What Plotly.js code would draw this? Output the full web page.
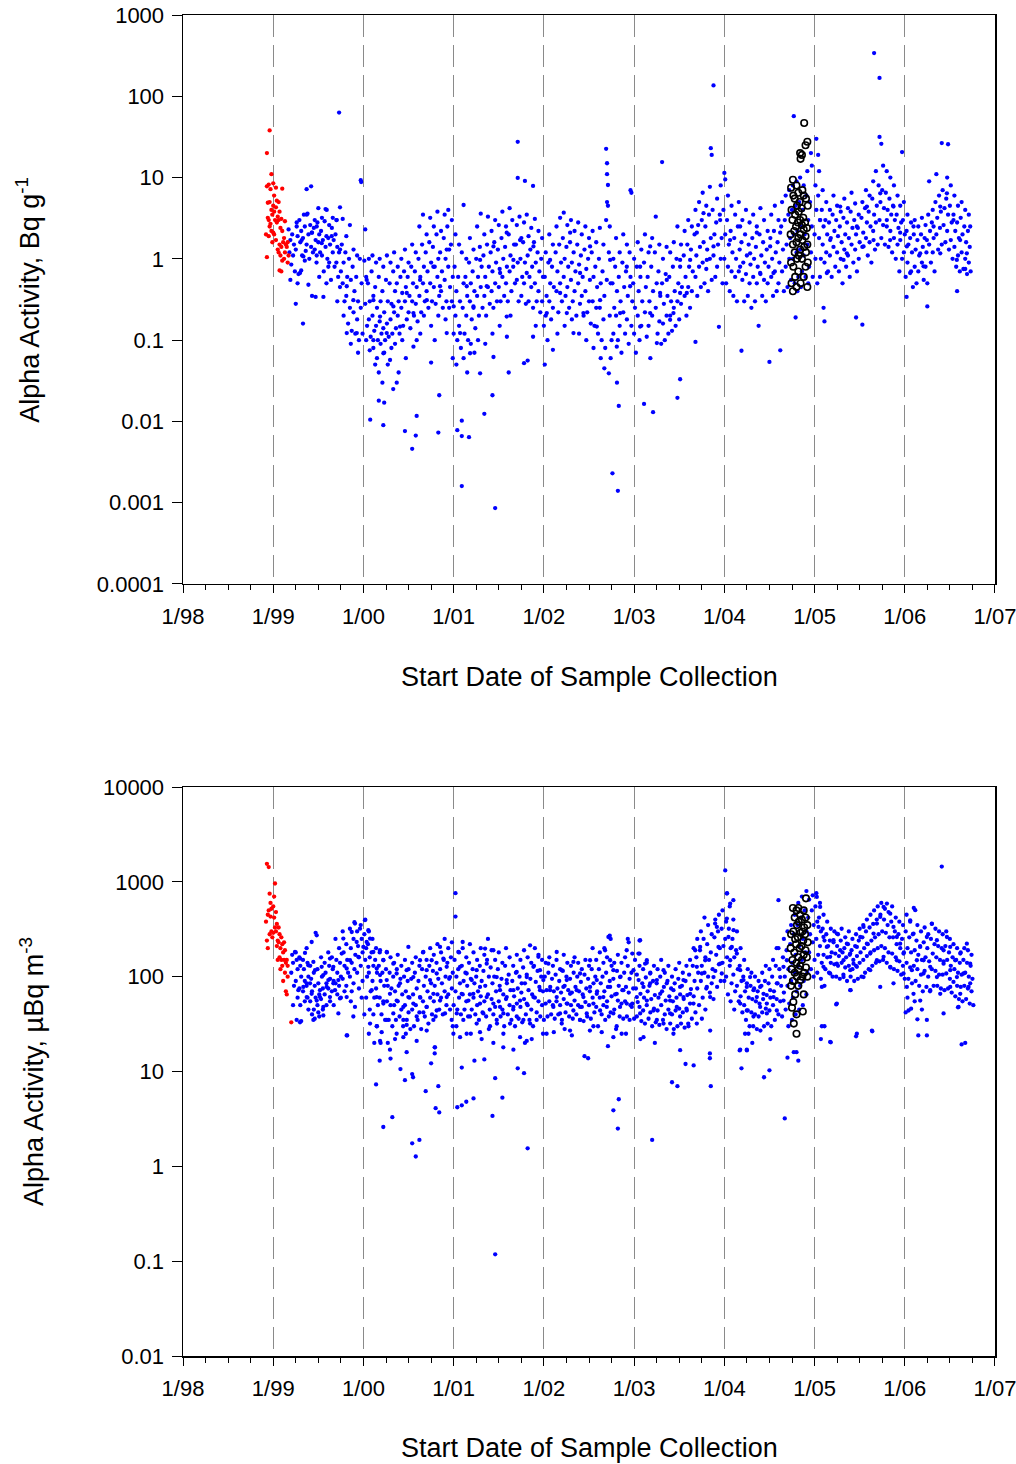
<!DOCTYPE html>
<html><head><meta charset="utf-8">
<script src="https://cdn.plot.ly/plotly-3.0.1.min.js"></script>
<style>html,body{margin:0;padding:0;background:#fff}#chart{width:1016px;height:1464px}</style>
</head><body><div id="chart"></div>
<script>
// ---------- axis ticks ----------
const yearTicks = [1998,1999,2000,2001,2002,2003,2004,2005,2006,2007];
const yearLabels = ["1/98","1/99","1/00","1/01","1/02","1/03","1/04","1/05","1/06","1/07"];
const topTickVals = [0.0001,0.001,0.01,0.1,1,10,100,1000];
const topTickText = ["0.0001","0.001","0.01","0.1","1","10","100","1000"];
const botTickVals = [0.01,0.1,1,10,100,1000,10000];
const botTickText = ["0.01","0.1","1","10","100","1000","10000"];

// ---------- top panel: Bq per g  [decimal year, value] ----------
const topRed = [
[1998.93,20],[1998.93,1.05],[1998.92,2.0],[1998.94,3.2],[1998.93,7.8],[1998.94,4.9],
[1998.96,38],[1998.95,8.2],[1998.96,5.0],[1998.95,3.0],[1998.96,2.5],[1998.95,1.9],
[1998.98,11],[1998.97,7.2],[1998.98,4.0],[1998.99,3.5],[1998.97,2.7],[1998.98,2.2],[1998.99,1.6],
[1999.0,8.5],[1999.01,6.0],[1999.0,4.5],[1999.01,3.8],[1999.02,3.0],[1999.0,2.1],[1999.01,2.0],
[1999.03,7.5],[1999.04,5.2],[1999.03,4.3],[1999.05,3.3],[1999.04,2.8],[1999.03,1.7],[1999.05,1.3],
[1999.06,5.0],[1999.07,3.8],[1999.06,3.0],[1999.08,2.4],[1999.07,1.5],[1999.06,1.2],[1999.08,1.1],[1999.07,0.72],
[1999.1,7.3],[1999.09,3.1],[1999.1,2.2],[1999.11,1.6],[1999.09,1.4],[1999.1,0.95],[1999.09,0.7],
[1999.13,2.9],[1999.12,1.8],[1999.14,1.5],[1999.13,1.2],[1999.12,1.0],
[1999.16,1.6],[1999.15,1.4],[1999.17,1.1],[1999.16,0.9]
];
const topBlack = [
[2004.74,7.5],[2004.745,4.0],[2004.735,2.0],[2004.74,0.9],[2004.745,0.5],
[2004.76,9.4],[2004.765,6.0],[2004.755,3.0],[2004.76,1.5],[2004.765,0.8],[2004.76,0.4],
[2004.78,5.5],[2004.785,3.5],[2004.775,2.2],[2004.78,1.2],[2004.785,0.6],
[2004.8,8.0],[2004.805,4.5],[2004.795,2.5],[2004.8,1.6],[2004.805,1.0],[2004.8,0.45],
[2004.82,6.5],[2004.825,3.8],[2004.815,2.8],[2004.82,1.8],[2004.825,1.1],[2004.82,0.7],
[2004.84,20],[2004.845,17],[2004.835,5.0],[2004.84,3.0],[2004.845,2.0],[2004.84,1.3],[2004.845,0.5],
[2004.86,19],[2004.865,7.0],[2004.855,4.2],[2004.86,2.6],[2004.865,1.7],[2004.86,1.0],
[2004.885,47],[2004.88,6.0],[2004.875,3.2],[2004.88,2.3],[2004.885,1.4],[2004.88,0.6],
[2004.9,25],[2004.905,5.5],[2004.895,2.8],[2004.9,1.9],[2004.905,1.2],[2004.9,0.8],
[2004.92,27.6],[2004.925,4.5],[2004.915,2.4],[2004.92,1.5],[2004.925,0.9],[2004.92,0.45]
];
const topBlue = [
// 1999
[1999.17,2.3],[1999.19,1.7],[1999.18,1.2],[1999.2,0.85],[1999.19,0.55],
[1999.21,2.0],[1999.23,1.5],[1999.22,1.1],[1999.24,0.7],[1999.25,0.28],
[1999.26,2.8],[1999.27,1.9],[1999.25,1.3],[1999.28,0.65],[1999.27,0.5],
[1999.29,3.0],[1999.31,2.2],[1999.3,1.6],[1999.32,1.1],[1999.31,0.72],[1999.33,0.16],
[1999.34,3.5],[1999.35,2.5],[1999.33,1.8],[1999.36,1.25],[1999.35,0.95],
[1999.37,7.2],[1999.38,3.6],[1999.39,2.0],[1999.37,1.5],[1999.4,1.0],[1999.39,0.48],
[1999.42,7.8],[1999.41,2.6],[1999.43,2.1],[1999.42,1.4],[1999.44,1.2],[1999.43,0.35],
[1999.46,3.0],[1999.45,2.4],[1999.47,1.7],[1999.46,1.3],[1999.48,0.9],[1999.47,0.34],
[1999.5,4.2],[1999.49,2.8],[1999.51,2.0],[1999.5,1.6],[1999.52,1.2],[1999.51,0.6],
[1999.54,3.2],[1999.53,2.2],[1999.55,1.7],[1999.54,1.1],[1999.56,0.7],
[1999.58,4.1],[1999.57,2.9],[1999.59,1.9],[1999.58,1.4],[1999.6,1.0],[1999.59,0.5],
[1999.62,2.6],[1999.61,1.8],[1999.63,1.5],[1999.62,0.9],[1999.64,0.55],
[1999.66,3.2],[1999.65,2.4],[1999.67,1.7],[1999.66,1.2],[1999.68,0.8],
[1999.7,3.0],[1999.69,2.0],[1999.71,1.4],[1999.7,0.9],[1999.72,0.6],[1999.71,0.3],
[1999.73,63],[1999.74,4.3],[1999.73,1.2],[1999.75,0.7],[1999.74,0.45],
[1999.77,3.1],[1999.76,1.5],[1999.78,0.9],[1999.77,0.5],[1999.79,0.3],[1999.78,0.2],
[1999.81,1.9],[1999.8,1.2],[1999.82,0.6],[1999.81,0.35],[1999.83,0.16],
[1999.85,2.6],[1999.84,1.0],[1999.86,0.55],[1999.85,0.25],[1999.87,0.13],[1999.86,0.09],
[1999.89,1.3],[1999.88,0.8],[1999.9,0.4],[1999.89,0.22],[1999.91,0.12],
[1999.93,1.1],[1999.92,0.6],[1999.94,0.3],[1999.93,0.18],[1999.95,0.1],[1999.94,0.07],
[1999.97,9.3],[1999.975,8.8],[1999.96,1.0],[1999.98,0.5],[1999.97,0.25],[1999.99,0.12],
// 2000
[2000.02,2.3],[2000.01,0.95],[2000.03,0.6],[2000.02,0.28],[2000.04,0.15],[2000.03,0.1],
[2000.06,1.0],[2000.05,0.5],[2000.07,0.3],[2000.06,0.18],[2000.08,0.11],[2000.07,0.075],[2000.075,0.0105],
[2000.1,1.1],[2000.09,0.7],[2000.11,0.35],[2000.1,0.2],[2000.12,0.13],[2000.11,0.08],[2000.13,0.05],
[2000.14,0.9],[2000.13,0.45],[2000.15,0.25],[2000.14,0.15],[2000.16,0.1],[2000.15,0.06],[2000.17,0.04],[2000.17,0.018],
[2000.18,1.0],[2000.17,0.6],[2000.19,0.3],[2000.18,0.17],[2000.2,0.12],[2000.19,0.09],[2000.21,0.03],
[2000.22,0.8],[2000.21,0.4],[2000.23,0.22],[2000.22,0.14],[2000.24,0.1],[2000.23,0.07],[2000.22,0.009],[2000.23,0.017],
[2000.26,1.1],[2000.25,0.55],[2000.27,0.3],[2000.26,0.16],[2000.28,0.11],[2000.27,0.05],
[2000.3,0.9],[2000.29,0.5],[2000.31,0.28],[2000.3,0.18],[2000.32,0.12],[2000.31,0.08],[2000.33,0.025],
[2000.34,1.2],[2000.33,0.7],[2000.35,0.4],[2000.34,0.22],[2000.36,0.14],[2000.35,0.09],
[2000.38,0.8],[2000.37,0.5],[2000.39,0.3],[2000.38,0.2],[2000.4,0.12],[2000.39,0.04],
[2000.42,1.0],[2000.41,0.6],[2000.43,0.38],[2000.42,0.25],[2000.44,0.15],[2000.43,0.1],[2000.46,0.0076],
[2000.46,1.3],[2000.45,0.7],[2000.47,0.45],[2000.46,0.3],[2000.48,0.18],[2000.47,0.06],
[2000.5,0.9],[2000.49,0.6],[2000.51,0.35],[2000.5,0.22],[2000.52,0.14],[2000.54,0.0046],
[2000.54,1.5],[2000.53,0.8],[2000.55,0.5],[2000.54,0.3],[2000.56,0.2],[2000.58,0.0067],[2000.59,0.0117],
[2000.58,1.2],[2000.57,0.7],[2000.59,0.45],[2000.58,0.28],[2000.6,0.17],[2000.59,0.1],
[2000.62,2.5],[2000.61,1.0],[2000.63,0.6],[2000.62,0.35],[2000.64,0.22],[2000.63,0.12],
[2000.66,3.5],[2000.65,1.5],[2000.67,0.8],[2000.66,0.5],[2000.68,0.3],[2000.67,0.2],
[2000.7,2.0],[2000.69,1.2],[2000.71,0.7],[2000.7,0.4],[2000.72,0.25],[2000.75,0.053],
[2000.74,3.2],[2000.73,1.6],[2000.75,0.9],[2000.74,0.5],[2000.76,0.3],[2000.75,0.15],
[2000.78,2.5],[2000.77,1.4],[2000.79,0.8],[2000.78,0.45],[2000.8,0.28],[2000.79,0.1],
[2000.82,3.8],[2000.81,2.0],[2000.83,1.0],[2000.82,0.6],[2000.84,0.35],[2000.83,0.2],[2000.83,0.0073],[2000.84,0.021],
[2000.86,2.2],[2000.85,1.2],[2000.87,0.7],[2000.86,0.4],[2000.88,0.25],
[2000.9,3.5],[2000.89,1.8],[2000.91,1.0],[2000.9,0.55],[2000.92,0.3],[2000.91,0.18],
[2000.94,4.0],[2000.93,2.5],[2000.95,1.3],[2000.94,0.8],[2000.96,0.45],[2000.95,0.25],
[2000.98,3.0],[2000.97,1.5],[2000.99,0.6],[2000.98,0.3],[2001,0.12],[2000.99,0.06],
// 2001
[2001.02,2.0],[2001.01,0.8],[2001.03,0.4],[2001.02,0.2],[2001.04,0.1],[2001.03,0.05],[2001.04,0.0078],
[2001.06,1.5],[2001.05,0.6],[2001.07,0.3],[2001.06,0.15],[2001.08,0.08],[2001.09,0.0066],[2001.09,0.0102],[2001.09,0.0016],
[2001.11,4.6],[2001.09,1.2],[2001.11,0.5],[2001.1,0.25],[2001.12,0.12],[2001.11,0.06],[2001.17,0.0064],
[2001.14,1.0],[2001.13,0.6],[2001.15,0.35],[2001.14,0.2],[2001.16,0.1],[2001.15,0.04],
[2001.18,1.8],[2001.17,0.9],[2001.19,0.5],[2001.18,0.3],[2001.2,0.18],[2001.19,0.09],
[2001.22,1.3],[2001.21,0.7],[2001.23,0.4],[2001.22,0.25],[2001.24,0.14],[2001.23,0.07],
[2001.26,2.5],[2001.25,1.0],[2001.27,0.6],[2001.26,0.35],[2001.28,0.2],[2001.27,0.1],
[2001.3,3.6],[2001.29,1.4],[2001.31,0.8],[2001.3,0.45],[2001.32,0.25],[2001.34,0.0124],
[2001.34,2.0],[2001.33,1.1],[2001.35,0.6],[2001.34,0.35],[2001.36,0.2],[2001.35,0.09],
[2001.38,3.3],[2001.37,1.5],[2001.39,0.8],[2001.38,0.45],[2001.4,0.28],[2001.43,0.021],
[2001.42,2.2],[2001.41,1.2],[2001.43,0.7],[2001.42,0.4],[2001.44,0.25],[2001.43,0.12],
[2001.46,0.00086],[2001.46,3.0],[2001.45,1.6],[2001.47,0.9],[2001.46,0.5],[2001.48,0.3],
[2001.5,2.6],[2001.49,1.3],[2001.51,0.75],[2001.5,0.45],[2001.52,0.3],[2001.51,0.15],
[2001.54,3.8],[2001.53,1.8],[2001.55,1.0],[2001.54,0.6],[2001.56,0.35],[2001.61,0.04],
[2001.58,2.5],[2001.57,1.4],[2001.59,0.8],[2001.58,0.5],[2001.6,0.3],[2001.59,0.11],
[2001.62,4.2],[2001.61,2.0],[2001.63,1.1],[2001.62,0.7],[2001.64,0.4],[2001.63,0.2],
[2001.71,27.5],[2001.71,9.9],[2001.65,3.0],[2001.67,1.5],[2001.66,0.8],[2001.68,0.5],[2001.78,0.052],
[2001.7,2.6],[2001.69,1.5],[2001.71,0.9],[2001.7,0.55],[2001.72,0.3],[2001.82,0.056],
[2001.79,9.1],[2001.73,3.3],[2001.75,1.8],[2001.74,1.0],[2001.76,0.6],[2001.75,0.35],
[2001.78,2.8],[2001.77,1.6],[2001.79,0.9],[2001.78,0.5],[2001.8,0.28],[2001.88,0.11],
[2001.88,7.9],[2001.81,3.5],[2001.83,1.9],[2001.82,1.1],[2001.84,0.6],[2001.83,0.3],
[2001.86,2.4],[2001.85,1.3],[2001.87,0.8],[2001.86,0.45],[2001.88,0.25],
[2001.9,3.1],[2001.89,1.6],[2001.91,0.9],[2001.9,0.5],[2001.92,0.3],[2001.91,0.15],
[2001.94,2.2],[2001.93,1.2],[2001.95,0.7],[2001.94,0.4],[2001.96,0.22],
[2001.98,1.8],[2001.97,1.0],[2001.99,0.6],[2001.98,0.3],[2002,0.15],
// 2002
[2002.02,1.2],[2002.01,0.6],[2002.03,0.35],[2002.02,0.2],[2002.04,0.1],[2002.01,0.05],
[2002.06,2.0],[2002.05,0.9],[2002.07,0.5],[2002.06,0.3],[2002.08,0.18],
[2002.1,1.5],[2002.09,0.8],[2002.11,0.45],[2002.1,0.25],[2002.1,0.076],
[2002.14,2.5],[2002.13,1.2],[2002.15,0.7],[2002.14,0.4],[2002.16,0.22],[2002.15,0.12],
[2002.18,3.2],[2002.17,1.5],[2002.19,0.9],[2002.18,0.5],[2002.2,0.3],
[2002.22,3.7],[2002.21,1.8],[2002.23,1.0],[2002.22,0.6],[2002.24,0.35],[2002.23,0.15],
[2002.26,2.6],[2002.25,1.4],[2002.27,0.8],[2002.26,0.45],[2002.28,0.25],
[2002.3,3.0],[2002.29,1.6],[2002.31,0.9],[2002.3,0.55],[2002.32,0.3],[2002.31,0.18],
[2002.34,2.2],[2002.33,1.2],[2002.35,0.7],[2002.34,0.4],[2002.36,0.2],
[2002.38,2.8],[2002.37,1.5],[2002.39,0.85],[2002.38,0.5],[2002.4,0.28],[2002.39,0.12],
[2002.42,2.0],[2002.41,1.1],[2002.43,0.6],[2002.42,0.35],[2002.44,0.2],
[2002.46,2.5],[2002.45,1.3],[2002.47,0.75],[2002.46,0.4],[2002.48,0.22],[2002.47,0.1],
[2002.5,1.8],[2002.49,1.0],[2002.51,0.55],[2002.5,0.3],[2002.52,0.16],
[2002.54,2.2],[2002.53,1.2],[2002.55,0.6],[2002.54,0.3],[2002.56,0.15],[2002.55,0.08],
[2002.58,1.6],[2002.57,0.8],[2002.59,0.45],[2002.58,0.25],[2002.6,0.12],
[2002.62,2.4],[2002.61,1.0],[2002.63,0.5],[2002.62,0.25],[2002.64,0.1],[2002.63,0.06],
[2002.66,1.5],[2002.65,0.7],[2002.67,0.35],[2002.66,0.18],[2002.68,0.08],[2002.67,0.045],
[2002.69,22.6],[2002.7,15],[2002.7,11],[2002.71,8.1],[2002.7,5.0],[2002.71,4.5],[2002.69,3.0],[2002.72,0.039],
[2002.73,2.5],[2002.72,1.2],[2002.74,0.5],[2002.73,0.2],[2002.75,0.1],[2002.74,0.06],[2002.76,0.0023],
[2002.77,1.0],[2002.76,0.5],[2002.78,0.25],[2002.77,0.12],[2002.81,0.03],[2002.83,0.0155],
[2002.8,1.8],[2002.79,0.8],[2002.81,0.4],[2002.8,0.2],[2002.82,0.1],[2002.82,0.0014],
[2002.84,1.2],[2002.83,0.6],[2002.85,0.3],[2002.84,0.15],[2002.86,0.07],
[2002.88,2.0],[2002.87,0.9],[2002.89,0.45],[2002.88,0.22],[2002.9,0.12],
[2002.92,1.5],[2002.91,0.7],[2002.93,0.35],[2002.92,0.18],[2002.94,0.09],
[2002.96,7.0],[2002.97,6.5],[2002.95,1.2],[2002.96,0.6],[2002.98,0.3],[2002.97,0.15],
// 2003
[2003,1.0],[2002.99,0.5],[2003.01,0.25],[2003,0.12],[2003.02,0.07],
[2003.04,1.6],[2003.03,0.8],[2003.05,0.4],[2003.04,0.2],[2003.06,0.1],
[2003.08,1.3],[2003.07,0.6],[2003.09,0.3],[2003.08,0.15],[2003.11,0.0164],
[2003.12,2.0],[2003.11,0.9],[2003.13,0.45],[2003.12,0.22],[2003.14,0.11],
[2003.16,1.2],[2003.15,0.6],[2003.17,0.3],[2003.16,0.15],[2003.18,0.06],
[2003.2,1.8],[2003.19,0.8],[2003.21,0.4],[2003.2,0.2],[2003.21,0.013],
[2003.24,3.3],[2003.23,1.2],[2003.25,0.5],[2003.24,0.25],[2003.26,0.12],
[2003.28,1.5],[2003.31,15.5],[2003.27,0.7],[2003.29,0.35],[2003.28,0.17],[2003.3,0.09],
[2003.32,1.0],[2003.31,0.5],[2003.33,0.28],[2003.32,0.16],[2003.34,0.1],
[2003.36,1.4],[2003.35,0.65],[2003.37,0.35],[2003.36,0.2],[2003.38,0.12],
[2003.4,1.2],[2003.39,0.6],[2003.41,0.3],[2003.4,0.2],[2003.42,0.13],
[2003.44,1.6],[2003.43,0.8],[2003.45,0.4],[2003.44,0.25],[2003.46,0.15],
[2003.48,2.5],[2003.47,1.0],[2003.49,0.5],[2003.48,0.3],[2003.5,0.18],[2003.48,0.0195],
[2003.52,1.5],[2003.51,0.8],[2003.53,0.45],[2003.52,0.28],[2003.51,0.033],
[2003.56,2.2],[2003.55,1.1],[2003.57,0.6],[2003.56,0.35],[2003.58,0.2],
[2003.6,3.0],[2003.59,1.5],[2003.61,0.8],[2003.6,0.45],[2003.62,0.25],
[2003.64,2.5],[2003.63,1.3],[2003.65,0.7],[2003.64,0.4],[2003.68,0.095],
[2003.68,4.0],[2003.67,2.0],[2003.69,1.1],[2003.68,0.6],[2003.7,0.35],
[2003.72,5.0],[2003.71,2.6],[2003.73,1.4],[2003.72,0.8],[2003.74,0.45],
[2003.76,6.5],[2003.75,3.0],[2003.77,1.6],[2003.76,0.9],[2003.78,0.5],
[2003.8,4.5],[2003.79,2.5],[2003.81,1.3],[2003.8,0.75],[2003.82,0.4],
[2003.84,7.7],[2003.83,3.5],[2003.85,1.8],[2003.84,1.0],[2003.86,0.55],
[2003.88,136],[2003.85,23],[2003.86,19],[2003.87,4.0],[2003.89,2.0],[2003.88,1.1],[2003.9,0.6],
[2003.92,5.5],[2003.91,2.8],[2003.93,1.5],[2003.92,0.8],[2003.94,0.146],
[2003.96,8.0],[2003.95,3.5],[2003.97,1.8],[2003.96,1.0],[2003.98,0.5],
// 2004
[2004,11.4],[2004.01,9.5],[2003.99,4.0],[2004.01,2.0],[2004,1.0],[2004.02,0.5],
[2004.04,6.0],[2004.03,3.0],[2004.05,1.5],[2004.04,0.8],[2004.06,0.4],
[2004.08,4.5],[2004.07,2.2],[2004.09,1.2],[2004.08,0.7],[2004.1,0.35],
[2004.12,3.5],[2004.11,1.8],[2004.13,1.0],[2004.12,0.6],[2004.14,0.3],
[2004.16,5.0],[2004.15,2.5],[2004.17,1.3],[2004.16,0.7],[2004.19,0.074],
[2004.2,3.0],[2004.19,1.6],[2004.21,0.9],[2004.2,0.55],[2004.22,0.3],
[2004.24,4.0],[2004.23,2.0],[2004.25,1.1],[2004.24,0.65],[2004.26,0.35],
[2004.28,2.8],[2004.27,1.5],[2004.29,0.85],[2004.28,0.5],[2004.3,0.25],
[2004.32,3.5],[2004.31,1.8],[2004.33,1.0],[2004.32,0.6],[2004.34,0.3],
[2004.36,2.5],[2004.35,1.4],[2004.37,0.8],[2004.36,0.5],[2004.38,0.15],
[2004.4,4.2],[2004.39,2.0],[2004.41,1.1],[2004.4,0.65],[2004.42,0.35],
[2004.44,3.0],[2004.43,1.6],[2004.45,0.9],[2004.44,0.55],[2004.46,0.3],
[2004.48,2.2],[2004.47,1.3],[2004.49,0.8],[2004.48,0.5],[2004.5,0.054],
[2004.52,3.5],[2004.51,1.8],[2004.53,1.0],[2004.52,0.6],[2004.54,0.35],
[2004.56,4.5],[2004.55,2.2],[2004.57,1.2],[2004.56,0.7],[2004.58,0.4],
[2004.6,3.0],[2004.59,1.6],[2004.61,0.9],[2004.6,0.5],[2004.62,0.075],
[2004.64,5.0],[2004.63,2.5],[2004.65,1.3],[2004.64,0.7],[2004.66,0.4],
[2004.68,6.0],[2004.67,3.0],[2004.69,1.5],[2004.68,0.8],[2004.7,0.45],
[2004.72,7.0],[2004.71,3.5],[2004.73,1.8],[2004.72,1.0],[2004.74,0.55],
[2004.77,57],[2004.76,8.0],[2004.75,4.0],[2004.77,2.0],[2004.76,1.0],[2004.78,0.5],[2004.79,0.19],
[2004.8,9.0],[2004.79,4.5],[2004.81,2.2],[2004.8,1.2],[2004.82,0.6],[2004.81,0.4],
[2004.84,10],[2004.83,5.0],[2004.85,2.5],[2004.84,1.3],[2004.86,0.7],[2004.85,0.45],
[2004.88,8.0],[2004.87,4.0],[2004.89,2.0],[2004.88,1.1],[2004.9,0.6],
[2004.92,12],[2004.91,6.0],[2004.93,3.0],[2004.92,1.5],[2004.94,0.8],[2004.93,0.5],
[2004.96,20],[2004.97,14],[2004.95,5.0],[2004.97,2.5],[2004.96,1.2],[2004.98,0.6],
// 2005
[2005.02,30],[2005.04,19],[2005.01,8.0],[2005.02,4.0],[2005,2.0],[2005.01,1.0],[2005.03,0.5],
[2005.05,12],[2005.04,6.0],[2005.06,3.0],[2005.05,1.8],[2005.07,1.0],[2005.06,0.6],
[2005.09,7.0],[2005.08,4.0],[2005.1,2.5],[2005.09,1.5],[2005.11,0.9],[2005.1,0.25],
[2005.13,5.0],[2005.12,3.0],[2005.14,2.0],[2005.13,1.2],[2005.15,0.7],[2005.11,0.17],
[2005.17,4.0],[2005.16,2.8],[2005.18,1.8],[2005.17,1.1],[2005.19,0.6],
[2005.21,6.0],[2005.2,3.5],[2005.22,2.2],[2005.21,1.4],[2005.23,0.8],
[2005.25,4.5],[2005.24,3.0],[2005.26,1.9],[2005.25,1.2],[2005.27,0.7],
[2005.29,3.8],[2005.28,2.5],[2005.3,1.6],[2005.29,1.0],[2005.31,0.5],
[2005.33,5.5],[2005.32,3.2],[2005.34,2.0],[2005.33,1.3],[2005.35,0.8],
[2005.37,4.2],[2005.36,2.8],[2005.38,1.8],[2005.37,1.1],[2005.39,0.6],
[2005.41,6.5],[2005.4,3.8],[2005.42,2.4],[2005.41,1.5],[2005.43,0.9],
[2005.45,4.8],[2005.44,3.0],[2005.46,2.0],[2005.45,1.3],[2005.47,0.7],
[2005.49,3.5],[2005.48,2.4],[2005.5,1.6],[2005.49,1.0],[2005.46,0.19],
[2005.53,5.0],[2005.52,3.2],[2005.54,2.1],[2005.53,1.4],[2005.53,0.155],
[2005.57,7.0],[2005.56,4.2],[2005.58,2.8],[2005.57,1.8],[2005.59,1.1],
[2005.61,6.0],[2005.6,3.8],[2005.62,2.5],[2005.61,1.6],[2005.63,0.9],
[2005.65,9.0],[2005.64,5.5],[2005.66,3.5],[2005.65,2.2],[2005.67,1.3],
[2005.66,340],[2005.68,12],[2005.69,4.5],[2005.68,2.8],[2005.7,1.5],
[2005.72,168],[2005.72,31.6],[2005.74,26],[2005.71,8.0],[2005.73,5.0],[2005.72,3.0],[2005.74,1.8],
[2005.76,14],[2005.75,7.0],[2005.77,4.2],[2005.76,2.6],[2005.78,1.5],
[2005.8,12],[2005.79,6.5],[2005.81,4.0],[2005.8,2.5],[2005.82,1.4],
[2005.84,10],[2005.83,5.5],[2005.85,3.5],[2005.84,2.2],[2005.86,1.2],
[2005.88,8.0],[2005.87,4.5],[2005.89,3.0],[2005.88,1.8],[2005.9,1.0],
[2005.92,6.0],[2005.91,3.5],[2005.93,2.4],[2005.92,1.5],[2005.94,0.7],
[2005.97,20.6],[2005.95,4.5],[2005.96,2.8],[2005.95,1.7],[2005.97,1.0],
[2005.99,5.0],[2005.98,3.0],[2006,2.0],[2005.99,1.2],[2006.01,0.6],
// 2006
[2006.03,3.5],[2006.02,2.2],[2006.04,1.5],[2006.03,0.9],[2006.02,0.34],
[2006.07,2.8],[2006.06,1.8],[2006.08,1.2],[2006.07,0.7],[2006.09,0.45],
[2006.11,3.0],[2006.1,2.0],[2006.12,1.3],[2006.11,0.8],[2006.13,0.5],
[2006.15,2.5],[2006.14,1.7],[2006.16,1.1],[2006.15,0.7],[2006.25,0.26],
[2006.19,3.2],[2006.18,2.0],[2006.2,1.4],[2006.19,0.9],[2006.21,0.55],
[2006.23,2.6],[2006.22,1.8],[2006.24,1.2],[2006.23,0.8],[2006.25,0.5],
[2006.27,9.0],[2006.26,3.5],[2006.28,2.2],[2006.27,1.5],[2006.29,0.9],
[2006.31,4.0],[2006.3,2.8],[2006.32,1.8],[2006.31,1.2],[2006.33,0.7],
[2006.35,11],[2006.34,5.0],[2006.36,3.2],[2006.35,2.0],[2006.37,1.3],
[2006.41,26.6],[2006.38,6.0],[2006.4,3.8],[2006.39,2.4],[2006.41,1.5],
[2006.48,25.7],[2006.42,7.0],[2006.44,4.2],[2006.43,2.6],[2006.45,1.6],
[2006.47,10],[2006.46,5.5],[2006.48,3.5],[2006.47,2.2],[2006.49,1.3],
[2006.51,8.0],[2006.5,4.5],[2006.52,2.8],[2006.51,1.7],[2006.53,1.0],[2006.58,0.4],
[2006.55,6.0],[2006.54,3.5],[2006.56,2.2],[2006.55,1.4],[2006.57,0.8],
[2006.59,4.5],[2006.58,2.8],[2006.6,1.8],[2006.59,1.1],[2006.61,0.7],
[2006.63,5.0],[2006.62,3.2],[2006.64,2.0],[2006.63,1.2],[2006.65,0.75],
[2006.67,4.0],[2006.66,2.5],[2006.68,1.6],[2006.67,1.0],[2006.69,0.65],
[2006.71,3.5],[2006.7,2.2],[2006.72,1.4],[2006.71,0.9],[2006.73,0.7]
];
// additional top-panel points read from close-ups
const topBlueMore = [
[1999.260,2.5],[1999.316,1.7],[1999.371,3.5],[1999.427,2.1],[1999.482,2.5],[1999.537,1.56],[1999.593,4.0],
[1999.648,1.9],[1999.704,3.0],[1999.741,1.3],[1999.334,1.07],[1999.482,1.1],[1999.611,0.8],[1999.297,0.67],
[1999.556,0.34],[1999.815,0.46],[1999.888,0.31],[1999.815,0.122],[1999.926,0.122],[2000.036,0.55],[2000.110,0.31],
[2000.184,0.195],[2000.258,0.122],[2000.221,0.069],[2000.332,0.26],[2000.406,0.147],[2000.480,0.38],[2000.554,0.215],
[2000.628,0.55],[2000.702,0.31],[2000.775,0.8],[2000.849,0.46],[2000.923,1.3],[2001.0,0.26],[2001.071,0.122],
[2001.145,0.46],[2001.219,0.26],[2001.293,0.97],[2001.367,0.46],[2001.441,1.42],[2001.515,0.67],[2001.588,2.1],
[2001.662,0.97],[2001.736,1.7],[2001.810,0.67],[2001.884,1.42],[2000.110,0.1],[2000.295,0.057],[2000.369,0.030],
[2000.554,0.083],[2000.923,0.122],[2001.182,0.069],[2001.293,0.039],[2001.441,0.062],[2001.588,0.195],
[2002.069,0.97],[2002.180,0.38],[2002.291,2.1],[2002.401,0.67],[2002.512,1.42],[2002.623,0.31],[2002.734,0.97],
[2002.845,0.215],[2002.956,0.46],[2003.067,0.8],[2003.178,0.215],[2003.288,0.38],[2003.399,0.178],[2003.510,0.38],
[2003.621,0.97],[2003.695,2.1],[2003.769,3.65],[2003.880,1.42],[2003.954,3.0],[2004.064,1.7],[2004.175,0.8],
[2004.286,1.17],[2004.397,0.67],[2004.508,1.42],[2004.619,2.1],[2002.254,0.215],[2002.328,0.122],[2002.586,0.147],
[2002.808,0.083],[2003.067,0.147],[2003.252,0.092],[2003.436,0.215],[2003.584,0.38],[2002.032,0.215],[2002.438,0.215],
[2002.697,0.55],[2002.919,0.8],[2003.178,1.42],[2003.362,0.55],[2003.510,0.97],[2003.806,0.97],[2004.175,2.5],
[2004.360,2.1],[2004.545,0.67],
[2005.062,3.0],[2005.173,1.7],[2005.284,4.4],[2005.358,1.17],[2005.469,2.5],[2005.580,4.4],[2005.654,1.7],
[2005.728,6.4],[2005.801,3.0],[2005.875,4.4],[2005.949,2.1],[2006.023,1.42],[2006.097,2.5],[2006.171,1.17],
[2006.245,1.7],[2006.319,2.5],[2006.393,4.4],[2006.467,6.4],[2006.540,3.0],[2006.614,1.7],[2006.688,1.17],
[2006.725,2.5],[2005.136,0.67],[2005.321,0.97],[2005.543,1.42],[2005.838,1.7],[2006.060,0.67],[2006.208,0.81],
[2006.393,1.17],[2006.577,0.97],[2006.670,0.75]
];

// ---------- bottom panel: µBq per m3  [decimal year, value] ----------
const botRed = [
[1998.93,1550],[1998.94,450],[1998.92,380],[1998.93,240],
[1998.95,1430],[1998.96,750],[1998.95,500],[1998.96,280],[1998.94,200],
[1998.97,600],[1998.98,520],[1998.97,430],[1998.98,300],[1998.99,260],
[1999.02,960],[1999.01,700],[1999.0,550],[1999.01,420],[1999.02,330],[1999.0,290],
[1999.03,480],[1999.04,360],[1999.03,300],[1999.05,240],[1999.04,210],[1999.05,150],
[1999.06,330],[1999.07,280],[1999.06,230],[1999.08,200],[1999.07,160],[1999.08,120],
[1999.09,260],[1999.1,220],[1999.11,180],[1999.09,150],[1999.1,130],[1999.11,90],
[1999.12,230],[1999.13,190],[1999.12,150],[1999.14,140],[1999.13,110],[1999.14,70],
[1999.15,150],[1999.16,130],[1999.15,65],[1999.16,100],
[1999.2,33]
];
const botBlack = [
[2004.74,280],[2004.735,200],[2004.745,120],[2004.74,80],[2004.75,47],
[2004.76,530],[2004.765,300],[2004.755,150],[2004.76,90],[2004.765,54],[2004.77,32],
[2004.78,420],[2004.785,250],[2004.775,180],[2004.78,110],[2004.785,65],
[2004.8,500],[2004.805,350],[2004.795,220],[2004.8,140],[2004.805,100],[2004.8,40],[2004.8,25],
[2004.82,530],[2004.825,380],[2004.815,260],[2004.82,160],[2004.825,120],[2004.82,80],
[2004.84,450],[2004.845,290],[2004.835,200],[2004.84,130],[2004.845,92],
[2004.86,400],[2004.865,300],[2004.855,210],[2004.86,150],[2004.865,100],[2004.87,43],
[2004.88,500],[2004.885,330],[2004.875,240],[2004.88,170],[2004.885,110],[2004.88,65],
[2004.905,670],[2004.9,420],[2004.895,280],[2004.9,190],[2004.905,125],
[2004.92,350],[2004.925,230],[2004.915,160],[2004.92,100]
];
const botBlue = [
// 1999
[1999.21,170],[1999.22,140],[1999.2,110],[1999.23,80],[1999.22,50],
[1999.25,180],[1999.26,150],[1999.27,120],[1999.25,90],[1999.27,60],[1999.26,35],
[1999.29,160],[1999.3,130],[1999.31,100],[1999.29,75],[1999.3,50],[1999.31,34],
[1999.33,150],[1999.34,120],[1999.35,90],[1999.33,70],[1999.35,55],
[1999.37,200],[1999.38,140],[1999.39,100],[1999.37,80],[1999.38,60],[1999.39,45],
[1999.41,130],[1999.42,95],[1999.43,70],[1999.41,55],[1999.43,40],
[1999.47,290],[1999.45,110],[1999.46,80],[1999.47,60],[1999.45,45],[1999.46,36],
[1999.49,120],[1999.5,85],[1999.51,65],[1999.49,50],[1999.51,38],
[1999.53,160],[1999.54,100],[1999.55,75],[1999.53,58],[1999.55,45],
[1999.57,140],[1999.58,110],[1999.59,85],[1999.57,65],[1999.59,50],
[1999.61,180],[1999.62,130],[1999.63,95],[1999.61,75],[1999.63,55],
[1999.65,160],[1999.66,120],[1999.67,90],[1999.65,70],[1999.67,50],
[1999.69,250],[1999.7,150],[1999.71,110],[1999.69,85],[1999.71,65],
[1999.73,200],[1999.74,140],[1999.75,100],[1999.73,80],[1999.75,60],
[1999.77,300],[1999.78,180],[1999.79,130],[1999.77,95],[1999.79,70],
[1999.81,220],[1999.82,150],[1999.83,110],[1999.81,80],[1999.82,24],
[1999.85,320],[1999.86,200],[1999.87,140],[1999.85,100],[1999.87,70],[1999.86,55],
[1999.9,375],[1999.89,250],[1999.91,170],[1999.9,120],[1999.89,85],
[1999.93,300],[1999.94,210],[1999.95,160],[1999.93,110],[1999.95,75],
[1999.97,350],[1999.98,250],[1999.99,180],[1999.97,130],[1999.99,90],[1999.98,60],
// 2000
[2000.02,400],[2000.01,280],[2000.03,200],[2000.02,150],[2000.04,100],[2000.03,60],[2000.01,40],
[2000.06,300],[2000.05,220],[2000.07,160],[2000.06,110],[2000.08,70],[2000.07,45],[2000.06,25],
[2000.1,250],[2000.09,180],[2000.11,130],[2000.1,90],[2000.12,60],[2000.11,40],[2000.12,20],
[2000.14,200],[2000.13,150],[2000.15,110],[2000.14,75],[2000.16,50],[2000.15,30],[2000.14,7.3],
[2000.18,180],[2000.17,130],[2000.19,90],[2000.18,60],[2000.2,40],[2000.19,20],[2000.18,13],
[2000.22,150],[2000.21,110],[2000.23,80],[2000.22,55],[2000.24,35],[2000.22,2.6],
[2000.26,180],[2000.25,120],[2000.27,80],[2000.26,55],[2000.28,35],[2000.27,20],
[2000.3,160],[2000.29,110],[2000.31,75],[2000.3,50],[2000.32,30],[2000.32,3.3],[2000.3,13.7],
[2000.34,140],[2000.33,100],[2000.35,70],[2000.34,50],[2000.36,35],[2000.35,22],
[2000.38,170],[2000.37,120],[2000.39,80],[2000.38,55],[2000.4,38],[2000.41,10.6],
[2000.42,130],[2000.41,95],[2000.43,65],[2000.42,45],[2000.44,30],[2000.46,8.1],
[2000.46,150],[2000.45,100],[2000.47,70],[2000.46,50],[2000.48,35],[2000.47,25],
[2000.5,120],[2000.49,90],[2000.51,60],[2000.5,42],[2000.52,28],[2000.54,9.4],
[2000.54,140],[2000.53,95],[2000.55,65],[2000.54,45],[2000.56,30],[2000.54,1.75],[2000.55,8.7],
[2000.58,160],[2000.57,110],[2000.59,75],[2000.58,50],[2000.6,35],[2000.58,1.27],
[2000.62,130],[2000.61,90],[2000.63,60],[2000.62,42],[2000.64,28],[2000.62,1.9],
[2000.66,180],[2000.65,120],[2000.67,80],[2000.66,55],[2000.68,38],[2000.69,6.2],
[2000.7,150],[2000.69,100],[2000.71,70],[2000.7,48],[2000.72,32],[2000.75,12.2],
[2000.74,200],[2000.73,130],[2000.75,85],[2000.74,60],[2000.76,40],[2000.79,15.5],[2000.79,18],
[2000.78,170],[2000.77,115],[2000.79,80],[2000.78,55],[2000.8,38],[2000.83,7],
[2000.82,220],[2000.81,140],[2000.83,95],[2000.82,65],[2000.84,45],
[2000.86,180],[2000.85,120],[2000.87,85],[2000.86,60],[2000.88,40],[2000.8,4.1],[2000.84,3.7],
[2000.9,250],[2000.89,150],[2000.91,100],[2000.9,70],[2000.92,50],
[2000.94,200],[2000.93,140],[2000.95,95],[2000.94,65],[2000.96,45],
[2000.98,230],[2000.97,160],[2000.99,110],[2000.98,75],[2001,50],[2000.99,30],
// 2001
[2001.02,760],[2001.02,430],[2001.01,150],[2001.03,100],[2001.02,70],[2001.04,45],[2001.03,30],[2001.04,4.2],
[2001.06,180],[2001.05,120],[2001.07,85],[2001.06,60],[2001.08,40],[2001.09,4.4],[2001.09,11],
[2001.1,200],[2001.09,130],[2001.11,90],[2001.1,65],[2001.12,45],[2001.14,4.8],
[2001.14,160],[2001.13,110],[2001.15,80],[2001.14,55],[2001.16,38],
[2001.18,220],[2001.17,140],[2001.19,95],[2001.18,65],[2001.2,45],[2001.19,25],[2001.22,5.2],
[2001.22,180],[2001.21,120],[2001.23,85],[2001.22,60],[2001.24,40],[2001.23,13],
[2001.26,150],[2001.25,100],[2001.27,70],[2001.26,50],[2001.28,35],
[2001.3,200],[2001.29,130],[2001.31,90],[2001.3,62],[2001.32,42],[2001.31,22],[2001.34,13.4],
[2001.34,170],[2001.33,115],[2001.35,80],[2001.34,55],[2001.36,38],
[2001.38,250],[2001.37,150],[2001.39,100],[2001.38,65],[2001.4,45],[2001.39,28],
[2001.42,190],[2001.41,125],[2001.43,85],[2001.42,58],[2001.44,40],[2001.43,3.4],
[2001.46,150],[2001.45,100],[2001.47,70],[2001.46,48],[2001.48,32],[2001.46,0.118],[2001.46,8.5],
[2001.5,180],[2001.49,120],[2001.51,80],[2001.5,55],[2001.52,38],[2001.54,5.3],
[2001.54,140],[2001.53,95],[2001.55,65],[2001.54,45],[2001.56,30],[2001.55,18],
[2001.58,200],[2001.57,130],[2001.59,85],[2001.58,58],[2001.6,40],
[2001.62,160],[2001.61,105],[2001.63,72],[2001.62,50],[2001.64,35],
[2001.66,130],[2001.65,90],[2001.67,62],[2001.66,45],[2001.68,30],
[2001.7,170],[2001.69,110],[2001.71,75],[2001.7,52],[2001.72,36],[2001.71,10.8],
[2001.74,150],[2001.73,100],[2001.75,68],[2001.74,48],[2001.76,33],
[2001.78,190],[2001.77,125],[2001.79,85],[2001.78,58],[2001.8,40],[2001.79,20],[2001.78,9.6],
[2001.82,160],[2001.81,105],[2001.83,72],[2001.82,50],[2001.84,35],[2001.82,1.55],
[2001.86,140],[2001.85,95],[2001.87,65],[2001.86,45],[2001.88,30],
[2001.9,200],[2001.89,130],[2001.91,88],[2001.9,60],[2001.92,42],
[2001.94,170],[2001.93,115],[2001.95,78],[2001.94,55],[2001.96,38],
[2001.98,150],[2001.97,100],[2001.99,70],[2001.98,50],[2002,35],[2001.99,25],
// 2002
[2002.02,140],[2002.01,100],[2002.03,72],[2002.02,52],[2002.04,38],[2002.03,25],
[2002.06,160],[2002.05,110],[2002.07,78],[2002.06,55],[2002.08,40],
[2002.1,130],[2002.09,95],[2002.11,70],[2002.1,50],[2002.12,36],[2002.11,26],
[2002.14,150],[2002.13,105],[2002.15,75],[2002.14,55],[2002.16,40],
[2002.18,120],[2002.17,90],[2002.19,68],[2002.18,50],[2002.2,35],
[2002.22,170],[2002.21,115],[2002.23,80],[2002.22,58],[2002.24,42],[2002.23,28],
[2002.26,140],[2002.25,100],[2002.27,72],[2002.26,52],[2002.28,38],
[2002.3,130],[2002.29,95],[2002.31,68],[2002.3,50],[2002.32,36],[2002.31,24],
[2002.34,160],[2002.33,110],[2002.35,78],[2002.34,56],[2002.36,40],
[2002.38,140],[2002.37,100],[2002.39,70],[2002.38,50],[2002.4,35],
[2002.42,120],[2002.41,88],[2002.43,65],[2002.42,48],[2002.44,34],[2002.45,14.5],
[2002.46,150],[2002.45,105],[2002.47,75],[2002.46,54],[2002.48,38],[2002.49,13.8],
[2002.5,130],[2002.49,95],[2002.51,70],[2002.5,50],[2002.52,36],[2002.51,27],
[2002.54,200],[2002.53,120],[2002.55,85],[2002.54,60],[2002.56,42],
[2002.58,150],[2002.57,100],[2002.59,70],[2002.58,48],[2002.6,30],
[2002.62,180],[2002.61,120],[2002.63,85],[2002.62,60],[2002.64,40],
[2002.67,200],[2002.66,140],[2002.65,100],[2002.67,70],[2002.66,50],[2002.68,35],
[2002.73,270],[2002.7,160],[2002.69,110],[2002.71,78],[2002.7,55],[2002.72,38],[2002.71,18.5],
[2002.74,250],[2002.75,130],[2002.73,90],[2002.75,62],[2002.74,42],[2002.77,3.9],
[2002.78,140],[2002.77,95],[2002.79,65],[2002.78,45],[2002.8,28],[2002.82,2.5],[2002.83,5.1],
[2002.82,170],[2002.81,115],[2002.83,80],[2002.82,56],[2002.84,38],
[2002.86,140],[2002.85,100],[2002.87,72],[2002.86,52],[2002.88,36],
[2002.9,160],[2002.89,110],[2002.91,78],[2002.9,55],[2002.92,38],[2002.91,25],
[2002.93,250],[2002.94,230],[2002.93,130],[2002.95,95],[2002.94,68],[2002.96,50],[2002.95,35],
[2002.98,175],[2002.97,110],[2002.99,75],[2002.98,52],[2003,36],
// 2003
[2003.06,240],[2003.06,175],[2003.01,150],[2003.03,105],[2003.02,75],[2003.04,54],[2003.03,38],
[2003.06,130],[2003.05,92],[2003.07,66],[2003.06,48],[2003.08,34],[2003.07,22],
[2003.1,120],[2003.09,85],[2003.11,60],[2003.1,44],[2003.12,32],
[2003.14,140],[2003.13,98],[2003.15,70],[2003.14,50],[2003.16,36],
[2003.18,110],[2003.17,80],[2003.19,58],[2003.18,42],[2003.2,30],[2003.2,1.9],
[2003.22,130],[2003.21,90],[2003.23,64],[2003.22,46],[2003.24,33],[2003.23,20],
[2003.26,120],[2003.25,85],[2003.27,60],[2003.26,44],[2003.28,31],
[2003.3,150],[2003.29,100],[2003.31,70],[2003.3,50],[2003.32,35],
[2003.34,110],[2003.33,78],[2003.35,56],[2003.34,40],[2003.36,28],
[2003.38,130],[2003.37,90],[2003.39,62],[2003.38,45],[2003.4,32],
[2003.42,100],[2003.41,75],[2003.43,55],[2003.42,40],[2003.44,28],[2003.42,7.7],
[2003.46,120],[2003.45,85],[2003.47,60],[2003.46,44],[2003.48,30],[2003.48,7],
[2003.5,140],[2003.49,95],[2003.51,65],[2003.5,46],[2003.52,32],[2003.51,16.8],
[2003.54,110],[2003.53,80],[2003.55,58],[2003.54,42],[2003.56,29],[2003.57,12],
[2003.58,130],[2003.57,90],[2003.59,64],[2003.58,46],[2003.6,32],
[2003.62,150],[2003.61,105],[2003.63,74],[2003.62,52],[2003.64,36],[2003.66,11.6],
[2003.66,200],[2003.65,130],[2003.67,90],[2003.66,62],[2003.68,42],
[2003.7,250],[2003.69,160],[2003.71,110],[2003.7,75],[2003.72,50],
[2003.74,300],[2003.73,190],[2003.75,130],[2003.74,90],[2003.76,60],
[2003.78,420],[2003.77,250],[2003.79,160],[2003.78,110],[2003.8,75],[2003.79,45],
[2003.82,350],[2003.81,220],[2003.83,150],[2003.82,100],[2003.84,68],[2003.84,15.5],[2003.84,13.8],[2003.85,7],
[2003.86,280],[2003.85,180],[2003.87,120],[2003.86,85],[2003.88,58],
[2003.9,400],[2003.89,260],[2003.91,170],[2003.9,115],[2003.92,78],
[2003.94,450],[2003.93,300],[2003.95,200],[2003.94,135],[2003.96,90],
[2003.98,500],[2003.97,320],[2003.99,210],[2003.98,140],[2004,90],
// 2004
[2004.01,1320],[2004.03,760],[2004.1,640],[2004.02,380],[2004.01,250],[2004.03,160],[2004.02,100],[2004.04,65],
[2004.06,550],[2004.05,320],[2004.07,200],[2004.06,130],[2004.08,85],[2004.07,55],
[2004.1,400],[2004.09,250],[2004.11,160],[2004.1,105],[2004.12,70],[2004.11,45],
[2004.14,300],[2004.13,190],[2004.15,120],[2004.14,80],[2004.16,55],[2004.19,10.8],[2004.17,16.7],
[2004.18,200],[2004.17,130],[2004.19,90],[2004.18,62],[2004.2,42],[2004.25,16.7],
[2004.22,150],[2004.21,100],[2004.23,70],[2004.22,50],[2004.24,35],[2004.23,25],
[2004.26,120],[2004.25,85],[2004.27,60],[2004.26,44],[2004.28,30],
[2004.3,110],[2004.29,80],[2004.31,58],[2004.3,42],[2004.32,30],[2004.31,20],
[2004.34,100],[2004.33,75],[2004.35,55],[2004.34,40],[2004.36,28],
[2004.38,90],[2004.37,70],[2004.39,52],[2004.38,38],[2004.4,27],[2004.44,8.7],
[2004.42,110],[2004.41,80],[2004.43,58],[2004.42,42],[2004.44,30],[2004.5,10.3],
[2004.46,130],[2004.45,90],[2004.47,64],[2004.46,46],[2004.48,32],
[2004.5,120],[2004.49,85],[2004.51,60],[2004.5,44],[2004.52,30],[2004.51,22],
[2004.54,150],[2004.53,100],[2004.55,70],[2004.54,50],[2004.56,35],
[2004.58,200],[2004.57,130],[2004.59,85],[2004.58,58],[2004.6,40],
[2004.6,640],[2004.6,200],[2004.61,120],[2004.63,80],[2004.62,55],[2004.64,38],
[2004.66,250],[2004.65,160],[2004.67,100],[2004.66,68],[2004.68,45],[2004.67,3.2],
[2004.7,300],[2004.69,190],[2004.71,120],[2004.7,80],[2004.72,52],[2004.71,30],[2004.7,14],
[2004.74,350],[2004.73,220],[2004.75,140],[2004.74,90],[2004.76,60],[2004.75,35],[2004.77,16],
[2004.78,450],[2004.77,280],[2004.79,170],[2004.78,110],[2004.8,70],[2004.79,40],[2004.8,16],
[2004.82,600],[2004.81,350],[2004.83,210],[2004.82,130],[2004.84,80],[2004.83,45],[2004.82,13],
[2004.86,700],[2004.85,420],[2004.87,250],[2004.86,150],[2004.88,90],[2004.87,50],
[2004.91,800],[2004.89,500],[2004.91,300],[2004.9,180],[2004.92,110],[2004.91,65],
[2004.94,650],[2004.93,420],[2004.95,280],[2004.94,180],[2004.96,120],
[2004.98,720],[2004.97,500],[2004.99,350],[2004.98,230],[2005,150],[2004.99,100],
// 2005
[2005.02,760],[2005.01,550],[2005.03,380],[2005.02,250],[2005.04,170],[2005.03,110],[2005.11,30],
[2005.06,600],[2005.05,420],[2005.07,300],[2005.06,210],[2005.08,140],[2005.07,95],[2005.07,22],
[2005.1,450],[2005.09,320],[2005.11,240],[2005.1,170],[2005.12,120],[2005.11,80],[2005.18,20.3],
[2005.14,380],[2005.13,280],[2005.15,210],[2005.14,160],[2005.16,110],[2005.24,51],
[2005.18,320],[2005.17,240],[2005.19,180],[2005.18,140],[2005.2,100],[2005.4,72],
[2005.22,300],[2005.21,230],[2005.23,175],[2005.22,135],[2005.24,100],
[2005.26,280],[2005.25,210],[2005.27,165],[2005.26,130],[2005.28,95],
[2005.3,320],[2005.29,240],[2005.31,180],[2005.3,140],[2005.32,105],[2005.46,23.5],
[2005.34,260],[2005.33,200],[2005.35,160],[2005.34,125],[2005.36,90],
[2005.38,300],[2005.37,220],[2005.39,170],[2005.38,130],[2005.4,100],
[2005.42,250],[2005.41,190],[2005.43,150],[2005.42,120],[2005.44,90],
[2005.46,280],[2005.45,210],[2005.47,165],[2005.46,130],[2005.48,95],[2005.64,26.5],
[2005.5,320],[2005.49,240],[2005.51,180],[2005.5,140],[2005.52,100],
[2005.54,350],[2005.53,260],[2005.55,200],[2005.54,150],[2005.56,110],
[2005.58,400],[2005.57,300],[2005.59,220],[2005.58,165],[2005.6,120],
[2005.62,450],[2005.61,330],[2005.63,240],[2005.62,180],[2005.64,130],
[2005.66,500],[2005.65,360],[2005.67,260],[2005.66,190],[2005.68,140],
[2005.7,550],[2005.69,400],[2005.71,280],[2005.7,200],[2005.72,145],
[2005.74,600],[2005.73,450],[2005.75,300],[2005.74,210],[2005.76,150],
[2005.78,520],[2005.77,400],[2005.79,290],[2005.78,200],[2005.8,140],
[2005.82,480],[2005.81,350],[2005.83,260],[2005.82,180],[2005.84,125],
[2005.86,550],[2005.85,380],[2005.87,260],[2005.86,175],[2005.88,120],
[2005.9,420],[2005.89,300],[2005.91,220],[2005.9,160],[2005.92,115],
[2005.94,380],[2005.93,280],[2005.95,200],[2005.94,145],[2005.96,105],
[2005.98,350],[2005.97,250],[2005.99,180],[2005.98,130],[2006,95],
// 2006
[2006.02,450],[2006.01,300],[2006.03,200],[2006.02,140],[2006.04,95],[2006.03,60],[2006.01,42],
[2006.06,380],[2006.05,260],[2006.07,180],[2006.06,125],[2006.08,85],[2006.07,46],
[2006.1,530],[2006.09,280],[2006.11,190],[2006.1,130],[2006.12,90],[2006.11,55],
[2006.14,350],[2006.13,240],[2006.15,170],[2006.14,120],[2006.16,80],[2006.14,35.5],[2006.15,24],
[2006.18,300],[2006.17,210],[2006.19,150],[2006.18,105],[2006.2,70],[2006.19,45],
[2006.22,330],[2006.21,230],[2006.23,160],[2006.22,115],[2006.24,78],
[2006.26,280],[2006.25,200],[2006.27,145],[2006.26,100],[2006.28,70],
[2006.3,360],[2006.29,250],[2006.31,175],[2006.3,120],[2006.32,80],
[2006.34,320],[2006.33,220],[2006.35,160],[2006.34,115],[2006.36,80],
[2006.41,1450],[2006.38,300],[2006.37,210],[2006.39,150],[2006.38,105],[2006.4,75],
[2006.42,280],[2006.41,200],[2006.43,145],[2006.42,105],[2006.44,72],
[2006.46,300],[2006.45,210],[2006.47,150],[2006.46,108],[2006.48,75],
[2006.5,250],[2006.49,180],[2006.51,130],[2006.5,95],[2006.52,68],
[2006.54,220],[2006.53,160],[2006.55,120],[2006.54,88],[2006.56,62],[2006.59,47.5],
[2006.58,200],[2006.57,150],[2006.59,110],[2006.58,80],[2006.6,58],[2006.63,19.3],
[2006.62,180],[2006.61,140],[2006.63,105],[2006.62,78],[2006.64,55],
[2006.66,200],[2006.65,150],[2006.67,110],[2006.66,80],[2006.68,58],
[2006.7,190],[2006.69,140],[2006.71,100],[2006.7,75],[2006.72,52],
[2006.74,170],[2006.73,130],[2006.75,95],[2006.74,70],[2006.76,50]
];
// additional bottom-panel points read from close-ups
const botBlueMore = [
[1999.241,182],[1999.297,155],[1999.352,178],[1999.389,132],[1999.445,143],[1999.482,273],[1999.426,232],
[1999.463,117],[1999.537,127],[1999.555,104],[1999.629,155],[1999.666,127],[1999.611,92],[1999.722,92],
[1999.759,175],[1999.777,252],[1999.814,122],[1999.851,149],[1999.870,296],[1999.906,363],[1999.925,232],
[1999.943,162],[1999.962,321],[1999.278,72],[1999.334,78],[1999.371,61],[1999.426,66],[1999.482,56],
[1999.518,61],[1999.555,48],[1999.629,61],[1999.685,72],[1999.740,59],[1999.814,61],[1999.500,42],
[1999.555,39],[1999.445,35],[1999.297,33],[1999.722,41],[1999.814,24],[1999.888,38],[1999.906,48],
[1999.371,85],[1999.592,78],[1999.666,85],[1999.408,85],[1999.518,72],
[2000.017,394],[2000.054,309],[2000.036,232],[2000.073,252],[1999.999,206],[2000.110,182],[2000.184,190],
[2000.221,149],[2000.258,182],[2000.054,127],[2000.147,122],[2000.184,104],[2000.258,92],[2000.331,137],
[2000.368,108],[2000.405,85],[2000.479,117],[2000.498,206],[2000.553,99],[2000.627,149],[2000.664,182],
[2000.701,117],[2000.738,92],[2000.756,149],[2000.812,108],[2000.849,206],[2000.886,155],[2000.923,127],
[2000.960,99],[2000.091,72],[2000.147,61],[2000.221,52],[2000.294,66],[2000.368,56],[2000.442,48],
[2000.498,61],[2000.553,52],[2000.627,61],[2000.701,48],[2000.775,66],[2000.849,56],[2000.923,61],
[2000.073,32],[2000.147,30],[2000.258,35],[2000.331,41],[2000.442,35],[2000.479,31],[2000.590,38],
[2000.664,42],[2000.775,35],[2000.812,44],[2000.904,41],[2000.978,35],[2000.184,21],[2000.294,17],
[2000.368,25],[2000.442,23],[2000.202,26],[2000.479,16],[2000.590,21],[2000.701,27],[2000.793,18],[2000.997,25],
[2001.052,182],[2001.100,232],[2001.071,127],[2001.144,108],[2001.200,92],[2001.255,117],[2001.292,78],
[2001.348,198],[2001.440,190],[2001.366,137],[2001.477,99],[2001.514,72],[2001.588,92],[2001.662,72],
[2001.699,112],[2001.754,85],[2001.810,99],[2001.847,214],[2001.884,127],[2001.939,162],[2001.957,117],
[2001.994,92],[2001.089,66],[2001.163,56],[2001.218,66],[2001.292,52],[2001.366,61],[2001.440,52],
[2001.514,48],[2001.588,61],[2001.662,48],[2001.736,56],[2001.810,52],[2001.884,61],[2001.957,72],
[2001.034,41],[2001.107,35],[2001.181,38],[2001.255,32],[2001.329,41],[2001.403,30],[2001.477,35],
[2001.551,41],[2001.625,32],[2001.699,38],[2001.773,35],[2001.847,32],[2001.920,35],[2001.071,23],
[2001.144,25],[2001.292,26],[2001.440,20],[2001.551,25],[2001.662,17],[2001.736,23],[2001.810,21],[2001.865,22],
[2002.050,137],[2002.142,182],[2002.198,117],[2002.253,92],[2002.327,143],[2002.401,108],[2002.512,149],
[2002.586,92],[2002.678,190],[2002.715,262],[2002.734,149],[2002.770,117],[2002.844,99],[2002.918,190],
[2002.068,72],[2002.142,61],[2002.216,78],[2002.290,66],[2002.364,72],[2002.438,61],[2002.512,78],
[2002.586,66],[2002.659,61],[2002.734,78],[2002.807,66],[2002.881,72],[2002.105,48],[2002.179,41],
[2002.253,52],[2002.327,44],[2002.401,48],[2002.475,41],[2002.549,52],[2002.623,44],[2002.697,48],
[2002.770,41],[2002.844,48],[2002.918,52],[2002.198,32],[2002.290,27],[2002.401,35],[2002.549,30],
[2002.641,26],[2002.770,23],[2002.807,30],[2002.862,25],
[2002.993,117],[2003.048,175],[2003.067,242],[2003.141,149],[2003.178,108],[2003.104,78],[2003.030,61],
[2002.974,48],[2003.067,41],[2003.141,56],[2003.215,44],[2003.289,66],[2003.326,117],[2003.362,85],
[2003.399,56],[2003.436,72],[2003.473,48],[2003.510,78],[2003.547,61],[2003.584,44],[2003.621,66],
[2003.658,52],[2003.695,127],[2003.677,190],[2003.732,206],[2003.751,108],[2003.788,149],[2003.806,78],
[2003.843,61],[2003.880,99],[2003.898,363],[2003.917,335],[2003.935,206],[2003.954,137],[2003.972,108],
[2003.252,35],[2003.326,32],[2003.436,25],[2003.510,38],[2003.603,30],[2003.695,32],[2003.751,36],
[2003.843,27],[2003.104,23],[2003.399,41],[2003.547,92],[2003.178,85],[2003.252,92],[2003.122,137],
[2004.028,752],[2004.065,590],[2004.028,410],[2004.046,262],[2004.102,309],[2004.083,206],[2004.139,175],
[2004.065,149],[2004.176,117],[2004.212,92],[2004.249,78],[2004.286,99],[2004.323,72],[2004.360,61],
[2004.397,78],[2004.434,66],[2004.471,52],[2004.508,72],[2004.545,61],[2004.582,85],[2004.619,99],
[2004.656,127],[2004.693,149],[2004.176,52],[2004.249,44],[2004.323,38],[2004.397,48],[2004.471,41],
[2004.582,44],[2004.656,56],[2004.268,25],[2004.176,17],[2004.249,17],
[2005.025,693],[2005.062,544],[2005.044,335],[2005.099,262],[2005.136,206],[2005.173,162],[2005.210,242],
[2005.247,285],[2005.284,190],[2005.321,149],[2005.358,223],[2005.395,175],[2005.432,137],[2005.469,206],
[2005.506,262],[2005.543,335],[2005.580,223],[2005.617,175],[2005.654,285],[2005.691,363],[2005.728,427],
[2005.765,544],[2005.802,590],[2005.839,462],[2005.875,335],[2005.912,262],[2005.949,223],[2005.986,175],
[2005.099,127],[2005.173,108],[2005.247,137],[2005.321,99],[2005.395,117],[2005.469,127],[2005.543,99],
[2005.617,117],[2005.691,149],[2005.765,162],[2005.839,127],[2005.912,149],[2005.986,108],[2005.081,78],
[2005.247,52],[2005.395,72],[2005.469,25],[2005.636,27],[2005.728,78],[2005.875,85],[2005.081,30],[2005.173,20.5],
[2006.060,393],[2006.116,502],[2006.097,285],[2006.171,206],[2006.208,149],[2006.245,262],[2006.300,363],
[2006.356,242],[2006.430,190],[2006.467,262],[2006.504,206],[2006.559,149],[2006.615,175],[2006.688,223],
[2006.725,137],[2006.079,117],[2006.134,149],[2006.208,108],[2006.282,127],[2006.356,99],[2006.430,137],
[2006.504,117],[2006.578,99],[2006.652,108],[2006.725,85],[2006.023,78],[2006.097,66],[2006.171,56],
[2006.282,72],[2006.393,66],[2006.504,78],[2006.615,66],[2006.707,78],[2006.042,44],[2006.245,35],
[2006.430,41],[2006.596,48],[2006.670,20],[2006.245,24]
];

// ---------- build ----------
const FONT = '"Liberation Sans", Arial, Helvetica, sans-serif';
const col = (a,i) => a.map(p => p[i]);
function dots(arr, color, xa, ya){
  return {type:'scatter', mode:'markers', x:col(arr,0), y:col(arr,1), xaxis:xa, yaxis:ya,
    marker:{color:color, size:4.3, line:{width:0}}, hoverinfo:'skip', showlegend:false};
}
function rings(arr, xa, ya){
  return {type:'scatter', mode:'markers', x:col(arr,0), y:col(arr,1), xaxis:xa, yaxis:ya,
    marker:{symbol:'circle-open', color:'#000', size:6.5, line:{width:1.6, color:'#000'}}, hoverinfo:'skip', showlegend:false};
}
const traces = [
  dots(topBlue.concat(topBlueMore),'#0000FF','x','y'), dots(topRed,'#FF0000','x','y'), rings(topBlack,'x','y'),
  dots(botBlue.concat(botBlueMore),'#0000FF','x2','y2'), dots(botRed,'#FF0000','x2','y2'), rings(botBlack,'x2','y2')
];

function xAxis(anchor){
  return {domain:[0,1], anchor:anchor, range:[1997.9999,2007.0001], tickmode:'array', tickvals:yearTicks, ticktext:yearLabels,
    ticks:'outside', ticklen:8, tickwidth:1, tickcolor:'#000', showline:true, linecolor:'#000', linewidth:1.5, mirror:true,
    showgrid:true, gridcolor:'#8a8a8a', gridwidth:1, griddash:'22px,8px', zeroline:false,
    tickfont:{family:FONT, size:22, color:'#000'}, ticklabelstandoff:4, ticklabeloverflow:'allow',
    minor:{tickmode:'linear', tick0:1998, dtick:0.25, ticks:'outside', ticklen:5, tickwidth:1, tickcolor:'#000', showgrid:false}};
}
function yAxis(anchor, dom, rng, tv, tt){
  return {domain:dom, anchor:anchor, type:'log', range:rng, tickmode:'array', tickvals:tv, ticktext:tt,
    ticks:'outside', ticklen:10, tickwidth:1, tickcolor:'#000', showline:true, linecolor:'#000', linewidth:1.5, mirror:true,
    showgrid:false, zeroline:false, tickfont:{family:FONT, size:22, color:'#000'}, ticklabelstandoff:3, ticklabeloverflow:'allow'};
}
const ann = (text,x,y,angle) => ({text:text, xref:'paper', yref:'paper', x:x, y:y, xanchor:'center', yanchor:'middle',
  showarrow:false, textangle:angle, font:{family:FONT, size:27, color:'#000'}});

const layout = {
  width:1016, height:1464, autosize:false,
  margin:{l:183, r:21, t:15, b:108},
  paper_bgcolor:'#fff', plot_bgcolor:'#fff', showlegend:false,
  xaxis: xAxis('y'),
  yaxis: yAxis('x', [0.5757,1], [-4,3], topTickVals, topTickText),
  xaxis2: xAxis('y2'),
  yaxis2: yAxis('x2', [0,0.4243], [-2,4], botTickVals, botTickText),
  annotations:[
    ann('Start Date of Sample Collection', 0.5, 0.5063, 0),
    ann('Start Date of Sample Collection', 0.5, -0.0686, 0),
    ann('Alpha Activity, Bq g<sup>-1</sup>', -0.191, 0.7875, -90),
    ann('Alpha Activity, µBq m<sup>-3</sup>', -0.186, 0.2125, -90)
  ]
};
Plotly.newPlot('chart', traces, layout, {staticPlot:true, displayModeBar:false});
</script></body></html>
